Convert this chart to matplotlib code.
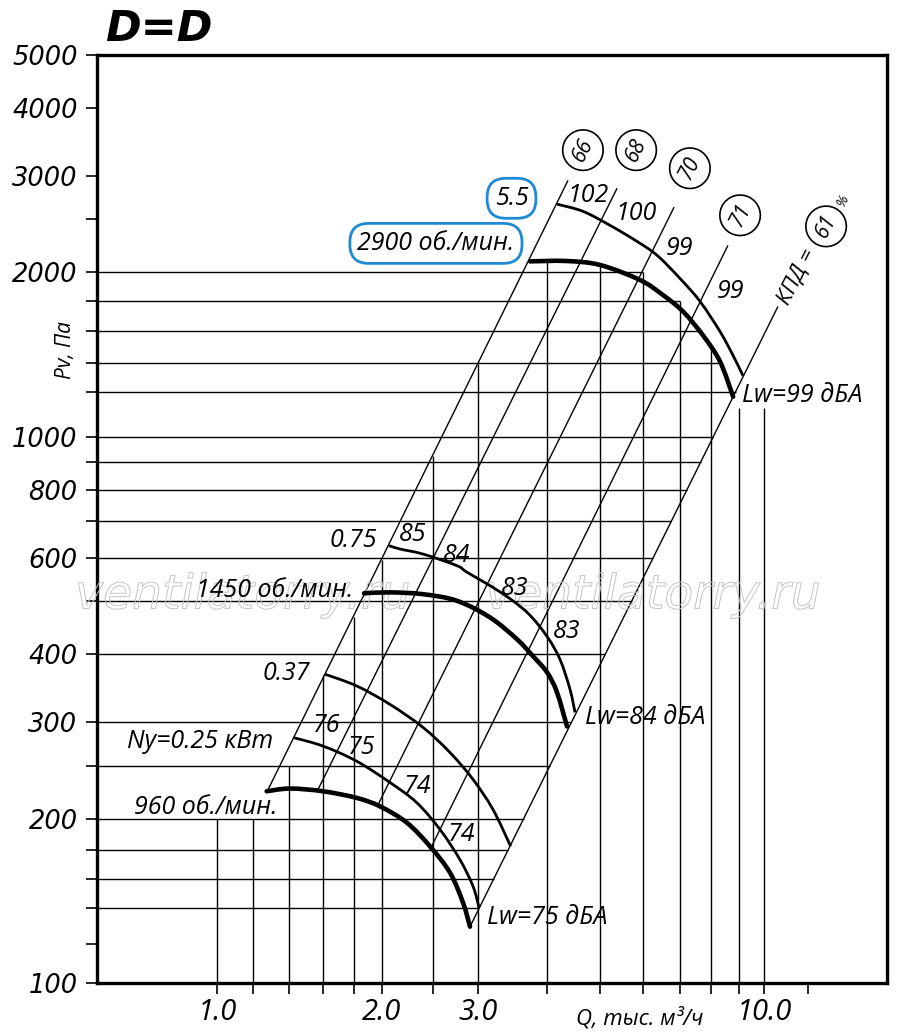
import numpy as np
import matplotlib
matplotlib.use("Agg")
import matplotlib.pyplot as plt
from matplotlib import patheffects
from matplotlib.path import Path
from matplotlib.patches import PathPatch

# Q in thousand m3/h, Pv in Pa, all read from the reference chart
# thick curves: pressure at each speed
q_2900 = [3.73, 4.35, 5.01, 5.93, 6.53, 7.10, 7.73, 8.30, 8.77]
p_2900 = [2095, 2098, 2063, 1936, 1817, 1696, 1532, 1373, 1184]
q_1450 = [1.854, 2.069, 2.377, 2.740, 3.151, 3.53, 3.777, 4.006, 4.178, 4.358]
p_1450 = [517, 519, 515, 501, 467, 426, 396.5, 370.6, 340.5, 294.9]
q_960 = [1.231, 1.358, 1.561, 1.798, 1.983, 2.220, 2.448, 2.663, 2.813, 2.897]
p_960 = [224.4, 227.0, 224.4, 218.2, 210.6, 196.6, 177.9, 159.2, 140.3, 126.8]

# thin curves: motor power variants
q_55 = [4.18, 4.66, 5.22, 5.85, 6.37, 7.01, 7.63, 8.30, 8.77, 9.14]
p_55 = [2666, 2587, 2439, 2279, 2148, 1950, 1769, 1558, 1408, 1294]
q_075 = [2.060, 2.158, 2.377, 2.740, 2.861, 3.287, 3.684, 4.006, 4.232, 4.413, 4.507]
p_075 = [632, 623, 610, 581, 565, 520, 477, 431, 391, 345, 313]
q_037 = [1.574, 1.798, 2.069, 2.377, 2.663, 2.935, 3.192, 3.438]
p_037 = [367.5, 349.8, 323.6, 293.7, 264.2, 235.8, 207.7, 177.9]
q_025 = [1.381, 1.562, 1.798, 2.069, 2.315, 2.554, 2.777, 2.935, 3.009]
p_025 = [281.2, 271.4, 254.7, 232.8, 213.9, 190.9, 168.2, 150.2, 137.3]

# efficiency lines (P ~ Q^2), top and bottom ends
eff_labels = ['66', '68', '70', '71', '61']
eff_q_top = [4.377, 5.38, 6.84, 8.58, 10.59]
eff_p_top = [2949, 2851, 2633, 2241, 1732]
eff_q_bot = [1.233, 1.528, 1.959, 2.448, 2.897]
eff_p_bot = [224.1, 226.1, 210.3, 175.4, 126.8]
eff_circle_q = [4.66, 5.83, 7.31, 9.03, 12.97]
eff_circle_p = [3348, 3348, 3102, 2544, 2428]

# noise levels along the thin curves
noise_labels = ['102', '100', '99', '99', '85', '84', '83', '83', '76', '75', '74', '74']
noise_q = [4.76, 5.83, 6.99, 8.69, 2.28, 2.743, 3.50, 4.358, 1.587, 1.839, 2.328, 2.802]
noise_p = [2769, 2566, 2213, 1845, 661, 605, 528, 440.6, 296.2, 269.9, 228.9, 186.9]

# grid
v_lines = [1.0, 1.16, 1.355, 1.56, 1.78, 2.0, 2.48, 3.0, 4.0, 5.0, 6.0, 7.0, 8.0, 9.0, 10.0]
v_tops = [200, 200, 250, 367, 467, 595, 923, 1361, 2095, 2063, 2000, 1770, 1462, 1130, 1130]
h_lines = [2000, 1770, 1560, 1367, 1209, 1000, 900, 800, 700, 600, 500, 400,
           300, 250, 200, 175, 155, 137]
h_ends_top = {2000: 6.0, 1770: 7.0, 1560: 7.69, 1367: 8.30}

x_ticks = v_lines + [12.0]
x_labels = {1.0: '1.0', 2.0: '2.0', 3.0: '3.0', 10.0: '10.0'}
y_ticks = sorted(h_lines + [5000, 4000, 3000, 2500, 118, 100])
y_labels = {100: '100', 200: '200', 300: '300', 400: '400', 600: '600', 800: '800',
            1000: '1000', 2000: '2000', 3000: '3000', 4000: '4000', 5000: '5000'}

q_min, q_max = 0.6026, 16.76
p_min, p_max = 100, 5000

plt.rcParams['font.family'] = ['Open Sans', 'DejaVu Sans']

fig = plt.figure(figsize=(9, 10.33), dpi=100)
ax = fig.add_axes([97 / 900, 50 / 1033, 790 / 900, 928 / 1033])
ax.set_xscale('log')
ax.set_yscale('log')
ax.set_xlim(q_min, q_max)
ax.set_ylim(p_min, p_max)


def q_on_eff(i, p):
    # Q where efficiency line i reaches pressure p (straight in log-log)
    lq0, lp0 = np.log10(eff_q_bot[i]), np.log10(eff_p_bot[i])
    lq1, lp1 = np.log10(eff_q_top[i]), np.log10(eff_p_top[i])
    t = (np.log10(p) - lp0) / (lp1 - lp0)
    return 10 ** (lq0 + t * (lq1 - lq0))


def smooth_curve(qs, ps, **kw):
    # smooth stroke through the read points (Catmull-Rom as bezier, in log space)
    x = np.log10(qs)
    y = np.log10(ps)
    n = len(x)
    verts = [(x[0], y[0])]
    codes = [Path.MOVETO]
    for i in range(n - 1):
        a = i - 1 if i > 0 else i
        b = i + 2 if i + 2 < n else i + 1
        c1 = (x[i] + (x[i + 1] - x[a]) / 6, y[i] + (y[i + 1] - y[a]) / 6)
        c2 = (x[i + 1] - (x[b] - x[i]) / 6, y[i + 1] - (y[b] - y[i]) / 6)
        verts += [c1, c2, (x[i + 1], y[i + 1])]
        codes += [Path.CURVE4] * 3
    path = Path(10 ** np.array(verts), codes)
    ax.add_patch(PathPatch(path, fill=False, **kw))


grid_kw = dict(color='black', lw=1.0, solid_capstyle='butt', zorder=2)

# horizontal grid lines: from left axis to the top curve or right efficiency line
for p in h_lines:
    q_end = h_ends_top.get(p, q_on_eff(4, p))
    ax.plot([q_min, q_end], [p, p], **grid_kw)

# vertical grid lines from the bottom up
for q, top in zip(v_lines, v_tops):
    ax.plot([q, q], [p_min, top], **grid_kw)

# efficiency lines
for i in range(len(eff_labels)):
    ax.plot([eff_q_bot[i], eff_q_top[i]], [eff_p_bot[i], eff_p_top[i]], **grid_kw)

# curves
for qs, ps in [(q_55, p_55), (q_075, p_075), (q_037, p_037), (q_025, p_025)]:
    smooth_curve(qs, ps, ec='black', lw=2.0, capstyle='butt', zorder=4)
for qs, ps in [(q_2900, p_2900), (q_1450, p_1450), (q_960, p_960)]:
    smooth_curve(qs, ps, ec='black', lw=3.3, capstyle='round', zorder=5)

# axes look
for side in ['left', 'right', 'top', 'bottom']:
    ax.spines[side].set_linewidth(2.4)
ax.xaxis.set_minor_locator(matplotlib.ticker.NullLocator())
ax.yaxis.set_minor_locator(matplotlib.ticker.NullLocator())
ax.set_xticks(x_ticks)
ax.set_xticklabels([x_labels.get(v, '') for v in x_ticks])
ax.set_yticks(y_ticks)
ax.set_yticklabels([y_labels.get(v, '') for v in y_ticks])
ax.tick_params(axis='both', direction='out', length=8, width=1.2)
ax.tick_params(axis='y', pad=6)
ax.tick_params(axis='x', pad=3)
for lab in ax.get_yticklabels():
    lab.set_family('DejaVu Sans')
    lab.set_style('italic')
    lab.set_fontsize(18.5)
for lab in ax.get_xticklabels():
    lab.set_style('italic')
    lab.set_fontsize(21)

txt_kw = dict(fontsize=18, style='italic', zorder=7)

# noise values
for s, q, p in zip(noise_labels, noise_q, noise_p):
    ax.text(q, p, s, ha='center', va='center', **txt_kw)

# efficiency circles
for s, q, p in zip(eff_labels, eff_circle_q, eff_circle_p):
    ax.text(q, p, s, ha='center', va='center', rotation=63, fontsize=15, style='italic',
            bbox=dict(boxstyle='circle,pad=0.42', fc='white', ec='black', lw=1.2), zorder=7)
ax.text(11.47, 1966, 'КПД =', ha='center', va='center', rotation=63, fontsize=16,
        style='italic', zorder=7)
ax.text(13.93, 2710, '%', ha='center', va='center', rotation=63, fontsize=10,
        style='italic', zorder=7)

# speed / power labels
ax.text(1.959, 647, '0.75', ha='right', va='center', **txt_kw)
ax.text(1.770, 524, '1450 об./мин.', ha='right', va='center', **txt_kw)
ax.text(1.477, 369, '0.37', ha='right', va='center', **txt_kw)
ax.text(1.264, 277, 'Ny=0.25 кВт', ha='right', va='center', **txt_kw)
ax.text(1.286, 209.5, '960 об./мин.', ha='right', va='center', **txt_kw)
ax.text(9.10, 1189, 'Lw=99 дБА', ha='left', va='center', **txt_kw)
ax.text(4.70, 306, 'Lw=84 дБА', ha='left', va='center', **txt_kw)
ax.text(3.112, 131.6, 'Lw=75 дБА', ha='left', va='center', **txt_kw)

blue_box = dict(boxstyle='round,pad=0.3,rounding_size=0.75', fc='white', ec='#1e8ad6', lw=2.0)
ax.text(3.45, 2733, '5.5', ha='center', va='center', bbox=blue_box, **txt_kw)
ax.text(2.51, 2260, '2900 об./мин.', ha='center', va='center', bbox=blue_box, **txt_kw)

# watermark (hollow letters)
for q in [1.114, 6.26]:
    ax.text(q, 511, 'ventilatorry.ru', ha='center', va='center', fontsize=34, style='italic',
            family='DejaVu Sans', color='none', zorder=3,
            path_effects=[patheffects.Stroke(linewidth=0.7, foreground='#c4c4c4')])

# axis titles and header
fig.text(66 / 900, 1 - 350 / 1033, 'Pv, Па', rotation=90, ha='center', va='center',
         fontsize=15, style='italic')
fig.text(640 / 900, 1 - 1018 / 1033, 'Q, тыс. м³/ч', ha='center', va='center',
         fontsize=16, style='italic')
fig.text(105 / 900, 1 - 41 / 1033, 'D=D', ha='left', va='baseline', fontsize=31,
         weight='bold', style='italic', family='DejaVu Sans')

fig.savefig('out.png', dpi=100)
